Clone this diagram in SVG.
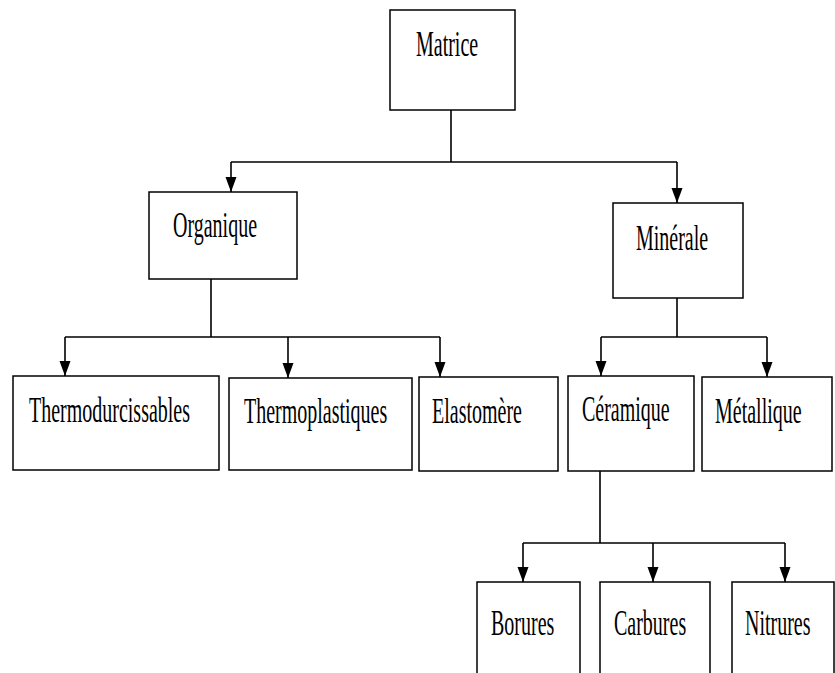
<svg xmlns="http://www.w3.org/2000/svg" width="835" height="673" viewBox="0 0 835 673">
<style>
.box{fill:#fff;stroke:#000;stroke-width:1.5}
.open{fill:none;stroke:#000;stroke-width:1.5}
.lbl{font-family:"Liberation Serif","Times New Roman",serif;font-size:20px;fill:#000}
.c{fill:none;stroke:#000;stroke-width:1.6}
</style>
<defs>
<marker id="arrh" markerUnits="userSpaceOnUse" markerWidth="16" markerHeight="12" refX="15" refY="6" orient="auto" viewBox="0 0 16 12">
<path d="M0,0.5 L15,6 L0,11.5 Z" fill="#000"/>
</marker>
</defs>
<rect width="835" height="673" fill="#fff"/>
<g id="connectors">
<path class="c" d="M451,110 V162 M231,162 H677"/>
<path class="c" d="M231,162 V192" marker-end="url(#arrh)"/>
<path class="c" d="M677,162 V203" marker-end="url(#arrh)"/>
<path class="c" d="M211,279 V337 M65,337 H440"/>
<path class="c" d="M65,337 V376" marker-end="url(#arrh)"/>
<path class="c" d="M288,337 V378" marker-end="url(#arrh)"/>
<path class="c" d="M440,337 V377" marker-end="url(#arrh)"/>
<path class="c" d="M677,298 V337 M601,337 H767"/>
<path class="c" d="M601,337 V376" marker-end="url(#arrh)"/>
<path class="c" d="M767,337 V377" marker-end="url(#arrh)"/>
<path class="c" d="M600,471 V543 M523,543 H785"/>
<path class="c" d="M523,543 V582" marker-end="url(#arrh)"/>
<path class="c" d="M653,543 V582" marker-end="url(#arrh)"/>
<path class="c" d="M785,543 V582" marker-end="url(#arrh)"/>
</g>
<g id="matrice"><rect class="box" x="390" y="10" width="125" height="100"/><text class="lbl" transform="translate(416,56) scale(1,1.8)">Matrice</text></g>
<g id="organique"><rect class="box" x="149" y="192" width="148" height="87"/><text class="lbl" transform="translate(173,237) scale(1,1.8)">Organique</text></g>
<g id="minerale"><rect class="box" x="613" y="203" width="130" height="95"/><text class="lbl" transform="translate(636,250) scale(1,1.8)">Minérale</text></g>
<g id="thermodurcissables"><rect class="box" x="13" y="376" width="206" height="94"/><text class="lbl" transform="translate(29,422) scale(1,1.8)">Thermodurcissables</text></g>
<g id="thermoplastiques"><rect class="box" x="229" y="378" width="183" height="92"/><text class="lbl" transform="translate(244,423) scale(1,1.8)">Thermoplastiques</text></g>
<g id="elastomere"><rect class="box" x="419" y="377" width="139" height="94"/><text class="lbl" transform="translate(432,423) scale(1,1.8)">Elastomère</text></g>
<g id="ceramique"><rect class="box" x="568" y="376" width="126" height="95"/><text class="lbl" transform="translate(582,421) scale(1,1.8)">Céramique</text></g>
<g id="metallique"><rect class="box" x="702" y="377" width="130" height="94"/><text class="lbl" transform="translate(715,423) scale(1,1.8)">Métallique</text></g>
<g id="borures"><path class="open" d="M477,673 V582 H580 V673"/><text class="lbl" transform="translate(491,635) scale(1,1.8)">Borures</text></g>
<g id="carbures"><path class="open" d="M600,673 V582 H710 V673"/><text class="lbl" transform="translate(614,635) scale(1,1.8)">Carbures</text></g>
<g id="nitrures"><path class="open" d="M732,673 V582 H834 V673"/><text class="lbl" transform="translate(745,635) scale(1,1.8)">Nitrures</text></g>
</svg>
